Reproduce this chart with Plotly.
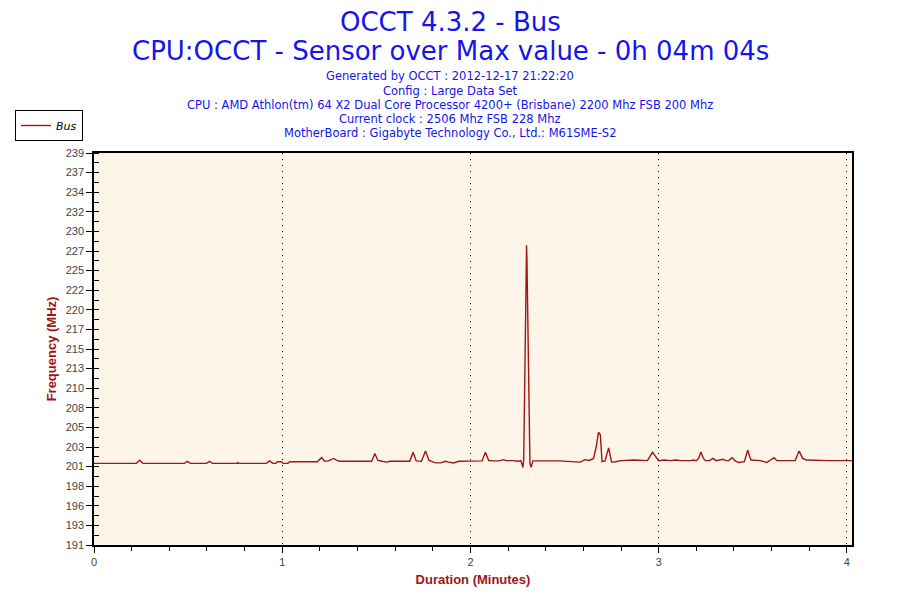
import plotly.graph_objects as go

# Bus frequency samples (minutes, MHz)
minutes = [
    0.000, 0.225, 0.243, 0.260, 0.480, 0.496, 0.512, 0.598, 0.614, 0.630,
    0.760, 0.764, 0.768, 0.915, 0.933, 0.950, 0.965, 0.975, 0.995, 1.005,
    1.030, 1.040, 1.186, 1.209, 1.225, 1.245, 1.274, 1.290, 1.305, 1.345,
    1.363, 1.380, 1.475, 1.492, 1.508, 1.530, 1.557, 1.570, 1.678, 1.695,
    1.712, 1.740, 1.761, 1.780, 1.792, 1.814, 1.840, 1.867, 1.885, 1.911,
    1.937, 2.000, 2.017, 2.035, 2.062, 2.079, 2.097, 2.120, 2.150, 2.176,
    2.190, 2.230, 2.250, 2.268, 2.279, 2.283, 2.298, 2.300, 2.316, 2.322,
    2.332, 2.400, 2.470, 2.583, 2.608, 2.630, 2.654, 2.668, 2.680, 2.690,
    2.699, 2.715, 2.722, 2.734, 2.742, 2.750, 2.770, 2.800, 2.870, 2.920,
    2.940, 2.967, 2.990, 3.000, 3.030, 3.060, 3.090, 3.120, 3.170, 3.185,
    3.200, 3.212, 3.224, 3.238, 3.248, 3.270, 3.288, 3.305, 3.341, 3.358,
    3.372, 3.390, 3.405, 3.424, 3.455, 3.473, 3.490, 3.520, 3.540, 3.574,
    3.592, 3.613, 3.628, 3.700, 3.725, 3.746, 3.765, 3.785, 3.835, 3.845,
    3.885, 3.900, 4.027,
]
bus_mhz = [
    201.0, 201.0, 201.37, 201.0, 201.0, 201.25, 201.0, 201.0, 201.25, 201.0,
    201.0, 201.1, 201.0, 201.0, 201.3, 201.0, 201.0, 201.2, 201.2, 201.0,
    201.0, 201.2, 201.2, 201.7, 201.25, 201.3, 201.6, 201.35, 201.25, 201.25,
    201.32, 201.25, 201.25, 202.2, 201.35, 201.25, 201.15, 201.25, 201.25, 202.35,
    201.3, 201.25, 202.5, 201.35, 201.25, 201.05, 201.05, 201.25, 201.15, 201.05,
    201.25, 201.25, 201.32, 201.25, 201.3, 202.35, 201.35, 201.3, 201.3, 201.45,
    201.33, 201.33, 201.25, 201.3, 200.5, 201.5, 227.7, 226.0, 201.0, 200.5,
    201.3, 201.33, 201.3, 201.15, 201.45, 201.35, 201.6, 203.0, 204.8, 204.5,
    201.2, 201.3, 201.9, 202.9, 202.0, 201.15, 201.2, 201.33, 201.4, 201.4,
    201.33, 202.35, 201.6, 201.33, 201.4, 201.33, 201.4, 201.33, 201.33, 201.4,
    201.33, 201.6, 202.4, 201.6, 201.33, 201.33, 201.6, 201.33, 201.5, 201.33,
    201.33, 201.7, 201.33, 201.1, 201.2, 202.6, 201.4, 201.4, 201.33, 201.1,
    201.33, 201.7, 201.33, 201.33, 201.33, 202.5, 201.6, 201.4, 201.33, 201.4,
    201.33, 201.33, 201.33,
]

y_min, y_max = 191, 239
y_labels = ["191", "193", "196", "198", "201", "203", "205", "208", "210", "213", "215",
            "217", "220", "222", "225", "227", "230", "232", "234", "237", "239"]
y_ticks = [y_min + i * (y_max - y_min) / (len(y_labels) - 1) for i in range(len(y_labels))]
x_max = 4.027

title_lines = ["OCCT 4.3.2 - Bus", "CPU:OCCT - Sensor over Max value - 0h 04m 04s"]
info_lines = [
    "Generated by OCCT : 2012-12-17 21:22:20",
    "Config : Large Data Set",
    "CPU : AMD Athlon(tm) 64 X2 Dual Core Processor 4200+ (Brisbane) 2200 Mhz FSB 200 Mhz",
    "Current clock : 2506 Mhz FSB 228 Mhz",
    "MotherBoard : Gigabyte Technology Co., Ltd.: M61SME-S2",
]

# the page body adds an 8px offset, so the figure is drawn 8px smaller
OFF = 8
W, H = 900 - OFF, 600 - OFF
L, R, T, B = 94 - OFF, 48, 153 - OFF, 55
BLUE = "#1414EE"
RED = "#A01515"


def px(x):
    # window pixel column -> paper x
    return (x - OFF - L) / (W - L - R)


def py(y):
    # window pixel row -> paper y
    return (H - B - (y - OFF)) / (H - T - B)


fig = go.Figure(
    go.Scatter(x=minutes, y=bus_mhz, mode="lines", name="Bus",
               line=dict(color=RED, width=1.4))
)

notes = [
    dict(text=title_lines[0], x=px(450), y=py(22),
         font=dict(family="DejaVu Sans", size=26, color=BLUE)),
    dict(text=title_lines[1], x=px(450), y=py(51),
         font=dict(family="DejaVu Sans", size=26, color=BLUE)),
]
for i, line in enumerate(info_lines):
    notes.append(dict(text=line, x=px(450), y=py(76.5 + i * 14.2),
                      font=dict(family="DejaVu Sans", size=11.5, color=BLUE)))
for n in notes:
    n.update(xref="paper", yref="paper", xanchor="center", yanchor="middle", showarrow=False)

fig.update_layout(
    width=W, height=H,
    margin=dict(l=L, r=R, t=T, b=B, autoexpand=False),
    paper_bgcolor="white",
    plot_bgcolor="#FDF6E8",
    showlegend=True,
    legend=dict(x=px(15), y=py(110), xanchor="left", yanchor="top",
                bgcolor="white", bordercolor="black", borderwidth=1,
                font=dict(family="DejaVu Sans", size=11, color="black", style="italic"),
                itemwidth=30, tracegroupgap=0),
    annotations=notes,
)

fig.update_xaxes(
    range=[0, x_max], tickmode="linear", tick0=0, dtick=1, automargin=False,
    showline=True, linecolor="black", linewidth=1.5, mirror=True,
    ticks="outside", ticklen=6, tickcolor="black", tickwidth=1,
    showgrid=True, gridcolor="black", griddash="1px,5px", gridwidth=1,
    zeroline=False,
    minor=dict(dtick=0.2, ticks="outside", ticklen=4, tickcolor="black", showgrid=False),
    tickfont=dict(family="Liberation Sans", size=11, color="#444"),
    title=dict(text="<b>Duration (Minutes)</b>", standoff=8,
               font=dict(family="Liberation Sans", size=13, color=RED)),
)
fig.update_yaxes(
    range=[y_min, y_max], tickmode="array", tickvals=y_ticks, ticktext=y_labels,
    automargin=False,
    showline=True, linecolor="black", linewidth=1.5, mirror=True,
    ticks="outside", ticklen=6, tickcolor="black", tickwidth=1,
    showgrid=False, zeroline=False,
    minor=dict(tick0=y_min, dtick=(y_max - y_min) / 40, ticks="inside", ticklen=5,
               tickcolor="black", showgrid=False),
    tickfont=dict(family="Liberation Sans", size=11, color="#444"),
    title=dict(text="<b>Frequency (MHz)</b>", standoff=6,
               font=dict(family="Liberation Sans", size=13, color=RED)),
)

fig.write_html("out.html")
